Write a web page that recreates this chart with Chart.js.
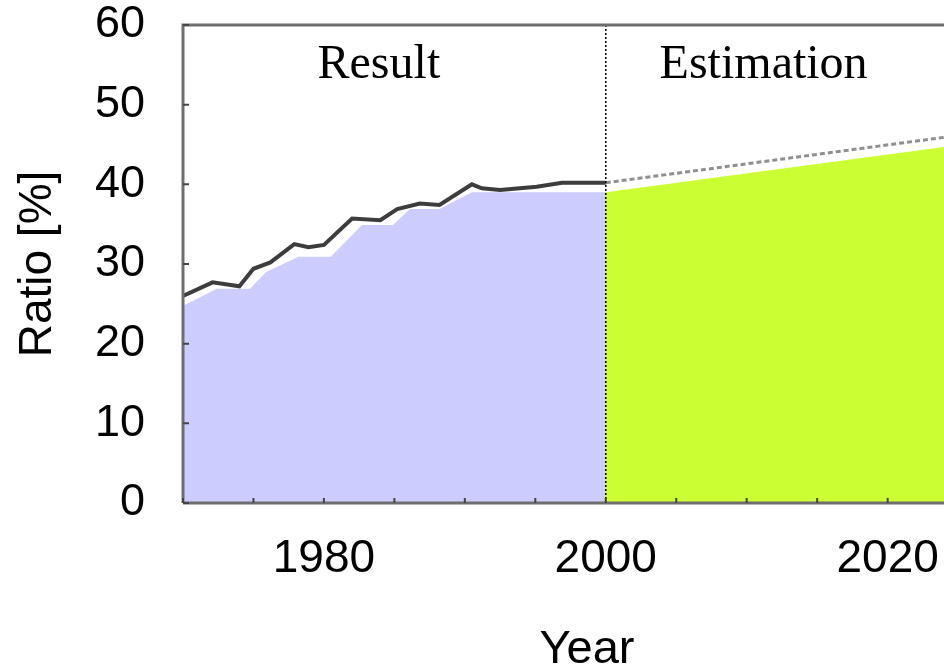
<!DOCTYPE html>
<html>
<head>
<meta charset="utf-8">
<script src="https://cdn.jsdelivr.net/npm/chart.js@4"></script>
<style>
 html, body { margin: 0; padding: 0; background: #fff; }
 canvas { display: block; }
</style>
</head>
<body>
<canvas id="ratioChart" width="944" height="671"></canvas>
<script>
// result period (lavender area)
var resultYears  = [1970, 1970.3, 1972.4, 1974.75, 1975.9, 1978.2, 1980.5, 1982.7, 1984.9, 1986.1, 1988.2, 1990.5, 2000];
var resultValues = [24.8, 25.0, 26.9, 26.9, 29.0, 30.9, 30.9, 34.9, 34.9, 36.9, 36.9, 39.0, 39.0];

// dark measured line above the result area
var trendYears  = [1970, 1972.1, 1974.0, 1975.0, 1976.2, 1977.9, 1978.9, 1980.0, 1982.0, 1984.0, 1985.2, 1986.8, 1988.2, 1990.5, 1991.2, 1992.5, 1995.1, 1996.9, 2000];
var trendValues = [26.0, 27.7, 27.2, 29.4, 30.2, 32.5, 32.1, 32.4, 35.7, 35.5, 36.9, 37.6, 37.4, 40.0, 39.5, 39.3, 39.7, 40.2, 40.2];

// estimation period (green area) and dashed line
var estimYears       = [2000, 2024];
var estimValues      = [39.0, 44.7];
var estimTrendValues = [40.2, 45.9];

var boundaryYear = 2000;
var xLabelYears = [1980, 2000, 2020];
var regionLabels = ['Result', 'Estimation'];
var regionLabelYears = [1983.9, 2011.2];
var regionLabelValue = 54.9;

function toPoints(xs, ys) {
 return xs.map(function(x, i) { return {x: x, y: ys[i]}; });
}

var sansFont = "'Liberation Sans', Arial, sans-serif";
var axisGray = '#6e6e6e';

// frame, inward tick marks and the two region captions
var decorPlugin = {
 id: 'decor',
 afterDatasetsDraw: function(chart) {
  var ctx = chart.ctx;
  var area = chart.chartArea;
  var xs = chart.scales.x, ys = chart.scales.y;
  ctx.save();
  ctx.strokeStyle = axisGray;
  ctx.lineWidth = 3;
  ctx.beginPath();
  ctx.moveTo(area.left, area.bottom);
  ctx.lineTo(area.left, area.top);
  ctx.lineTo(area.right, area.top);
  ctx.moveTo(area.left, area.bottom);
  ctx.lineTo(area.right, area.bottom);
  ctx.stroke();

  ctx.lineWidth = 2;
  ctx.strokeStyle = '#444';
  ctx.beginPath();
  xs.ticks.forEach(function(t) {
   if (t.value % 5 !== 0) return;
   var px = xs.getPixelForValue(t.value);
   ctx.moveTo(px, area.bottom);
   ctx.lineTo(px, area.bottom - 5);
  });
  ys.ticks.forEach(function(t) {
   var py = ys.getPixelForValue(t.value);
   ctx.moveTo(area.left, py);
   ctx.lineTo(area.left + 6, py);
  });
  ctx.stroke();

  ctx.fillStyle = '#000';
  ctx.font = "48px 'Liberation Serif', 'Times New Roman', serif";
  ctx.textAlign = 'center';
  ctx.textBaseline = 'middle';
  regionLabels.forEach(function(txt, i) {
   ctx.fillText(txt, xs.getPixelForValue(regionLabelYears[i]), ys.getPixelForValue(regionLabelValue));
  });
  ctx.restore();
 }
};

new Chart(document.getElementById('ratioChart').getContext('2d'), {
 type: 'line',
 data: {
  datasets: [
   {
    label: 'Boundary',
    data: toPoints([boundaryYear, boundaryYear], [0, 60]),
    borderColor: '#000',
    borderWidth: 1.5,
    borderDash: [2, 2],
    pointRadius: 0,
    fill: false,
    order: 0
   },
   {
    label: 'Result line',
    data: toPoints(trendYears, trendValues),
    borderColor: '#3d3d3d',
    borderWidth: 4,
    pointRadius: 0,
    fill: false,
    order: 1
   },
   {
    label: 'Estimation line',
    data: toPoints(estimYears, estimTrendValues),
    borderColor: '#8f8f8f',
    borderWidth: 3,
    borderDash: [5, 3],
    pointRadius: 0,
    fill: false,
    order: 1
   },
   {
    label: 'Result',
    data: toPoints(resultYears, resultValues),
    borderWidth: 0,
    backgroundColor: '#ccccff',
    pointRadius: 0,
    fill: 'origin',
    order: 3
   },
   {
    label: 'Estimation',
    data: toPoints(estimYears, estimValues),
    borderWidth: 0,
    backgroundColor: '#ccff33',
    pointRadius: 0,
    fill: 'origin',
    order: 3
   }
  ]
 },
 options: {
  responsive: false,
  animation: false,
  layout: { padding: { left: 11, top: 25, right: 0, bottom: 0 } },
  plugins: { legend: { display: false }, tooltip: { enabled: false } },
  elements: { line: { tension: 0 } },
  scales: {
   x: {
    type: 'linear',
    min: 1970,
    max: 2024,
    grid: { display: false, drawTicks: false },
    border: { display: false },
    afterFit: function(scale) {
     scale.height = 168;
     scale.paddingLeft = 0;
     scale.paddingRight = 0;
    },
    ticks: {
     stepSize: 5,
     includeBounds: false,
     autoSkip: false,
     maxRotation: 0,
     padding: 29,
     color: '#000',
     font: { family: sansFont, size: 46 },
     callback: function(v) { return xLabelYears.indexOf(v) >= 0 ? String(v) : ''; }
    },
    title: {
     display: true,
     text: '\u2003Year',
     color: '#000',
     font: { family: sansFont, size: 47 },
     padding: { top: 35, bottom: -7 }
    }
   },
   y: {
    min: 0,
    max: 60,
    grid: { display: false, drawTicks: false },
    border: { display: false },
    afterFit: function(scale) {
     scale.width = 172;
     scale.paddingTop = 0;
     scale.paddingBottom = 0;
    },
    ticks: {
     stepSize: 10,
     padding: 38,
     color: '#000',
     font: { family: sansFont, size: 45 }
    },
    title: {
     display: true,
     text: 'Ratio [%]',
     color: '#000',
     font: { family: sansFont, size: 46 },
     padding: { top: 0, bottom: 27 }
    }
   }
  }
 },
 plugins: [decorPlugin]
});
</script>
</body>
</html>
